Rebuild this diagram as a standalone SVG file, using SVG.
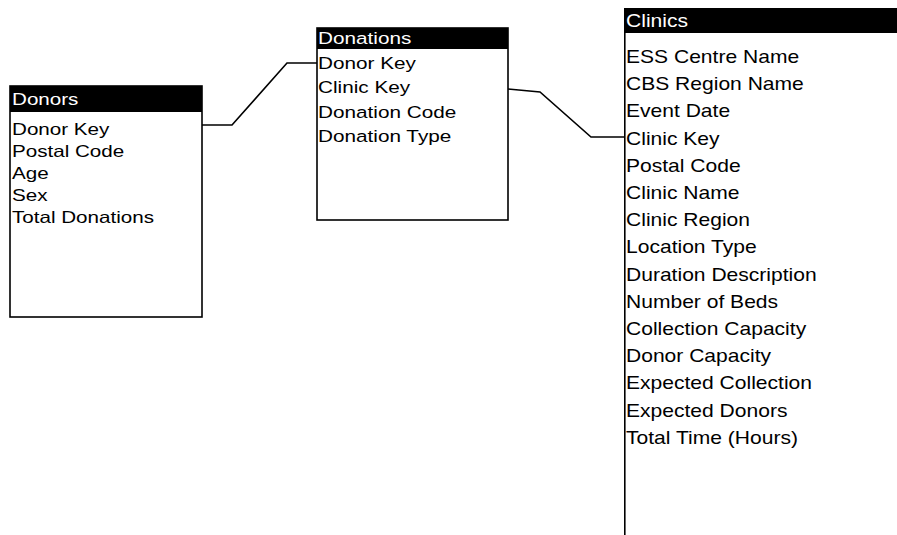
<svg xmlns="http://www.w3.org/2000/svg" width="897" height="535" viewBox="0 0 897 535">
<style>
.box{fill:#fff;stroke:#000;stroke-width:1.6}
.hdr{fill:#000}
.t{font-family:"Liberation Sans",Arial,sans-serif;fill:#000}
.h{font-family:"Liberation Sans",Arial,sans-serif;fill:#fff}
.conn{fill:none;stroke:#000;stroke-width:1.6}
</style>
<rect width="897" height="535" fill="#fff"/>
<g id="connectors">
<polyline class="conn" points="202,125 232,125 287,63 317,63"/>
<polyline class="conn" points="508,89 540,92 591,137 625,137"/>
</g>
<g id="donors">
<rect class="box" x="10" y="86" width="192" height="231"/>
<rect class="hdr" x="10" y="86" width="192" height="26"/>
<g transform="translate(12,0) scale(1.25,1)" font-size="16.5">
<text class="h" x="0" y="105">Donors</text>
<text class="t" x="0" y="135">Donor Key</text>
<text class="t" x="0" y="157">Postal Code</text>
<text class="t" x="0" y="179">Age</text>
<text class="t" x="0" y="201">Sex</text>
<text class="t" x="0" y="223">Total Donations</text>
</g>
</g>
<g id="donations">
<rect class="box" x="317" y="28" width="191" height="192"/>
<rect class="hdr" x="317" y="28" width="191" height="21"/>
<g transform="translate(318,0) scale(1.22,1)" font-size="17">
<text class="h" x="0" y="44">Donations</text>
<text class="t" x="0" y="69">Donor Key</text>
<text class="t" x="0" y="93.5">Clinic Key</text>
<text class="t" x="0" y="118">Donation Code</text>
<text class="t" x="0" y="142">Donation Type</text>
</g>
</g>
<g id="clinics">
<line x1="624.8" y1="8" x2="624.8" y2="535" stroke="#000" stroke-width="1.6"/>
<rect class="hdr" x="624" y="8" width="273" height="25"/>
<g transform="translate(626,0) scale(1.17,1)" font-size="18">
<text class="h" x="0" y="27">Clinics</text>
<text class="t" x="0" y="63">ESS Centre Name</text>
<text class="t" x="0" y="90.2">CBS Region Name</text>
<text class="t" x="0" y="117.4">Event Date</text>
<text class="t" x="0" y="144.6">Clinic Key</text>
<text class="t" x="0" y="171.8">Postal Code</text>
<text class="t" x="0" y="199">Clinic Name</text>
<text class="t" x="0" y="226.2">Clinic Region</text>
<text class="t" x="0" y="253.4">Location Type</text>
<text class="t" x="0" y="280.6">Duration Description</text>
<text class="t" x="0" y="307.8">Number of Beds</text>
<text class="t" x="0" y="335">Collection Capacity</text>
<text class="t" x="0" y="362.2">Donor Capacity</text>
<text class="t" x="0" y="389.4">Expected Collection</text>
<text class="t" x="0" y="416.6">Expected Donors</text>
<text class="t" x="0" y="443.8">Total Time (Hours)</text>
</g>
</g>
</svg>
